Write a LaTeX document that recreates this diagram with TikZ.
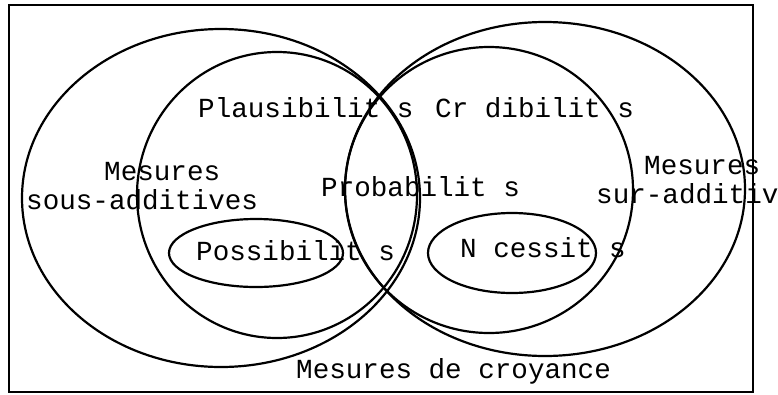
\documentclass[tikz,border=0pt]{standalone}
\usepackage{fontspec}
\newfontfamily\cour{Liberation Mono}
\begin{document}
\begin{tikzpicture}[x=1pt,y=-1pt,
  set/.style={line width=2.2pt},
  frame/.style={line width=2.2pt},
  lbl/.style={inner sep=0pt,anchor=base west,font=\cour\fontsize{27.6}{32}\selectfont}]
\useasboundingbox (0,0) rectangle (778,394);
\draw[frame] (9,5) rectangle (753,392);
% sets
\draw[set] (221,198) ellipse [x radius=199pt,y radius=169pt];
\draw[set] (277,195) ellipse [x radius=140pt,y radius=143pt];
\draw[set] (545,189) ellipse [x radius=200pt,y radius=167pt];
\draw[set] (489,190) ellipse [x radius=144pt,y radius=143pt];
\draw[set] (256,253) ellipse [x radius=87pt,y radius=34pt];
\draw[set] (512,253) ellipse [x radius=84pt,y radius=40pt];
% labels
\node[lbl] (plau) at (198,117) {Plausibilit s};
\node[lbl] (cred) at (435,117) {Cr dibilit s};
\node[lbl] (mesL) at (104,180) {Mesures};
\node[lbl] (sous) at (26,209) {sous-additives};
\node[lbl] (prob) at (321,196) {Probabilit s};
\node[lbl] (poss) at (196,260) {Possibilit s};
\node[lbl] (nec) at (460,257) {N cessit s};
\node[lbl] (mesR) at (644,174) {Mesures};
\node[lbl] (sur) at (596,203) {sur-additiv};
\node[lbl] (croy) at (296,378) {Mesures de croyance};
\end{tikzpicture}
\end{document}
